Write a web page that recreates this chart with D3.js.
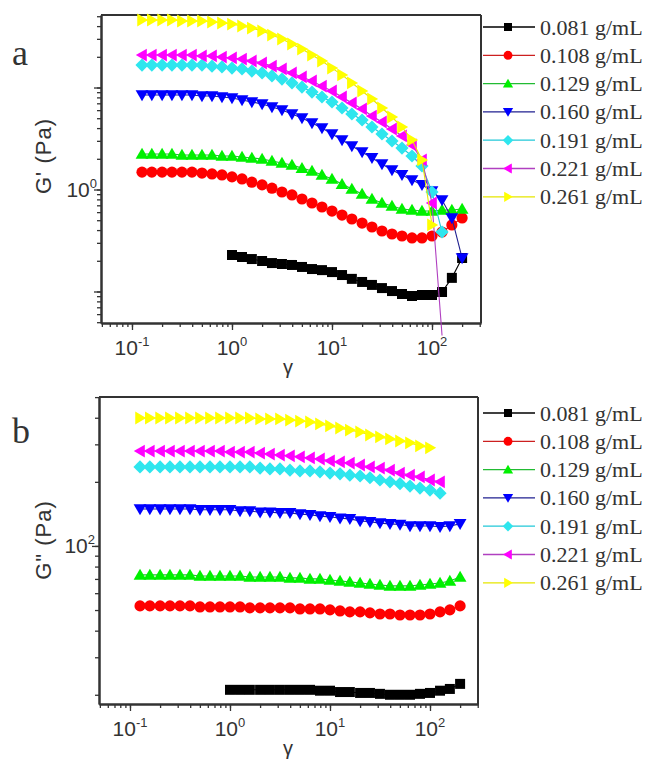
<!DOCTYPE html>
<html>
<head>
<meta charset="utf-8">
<script src="https://cdn.jsdelivr.net/npm/d3@7"></script>
<style>
  html, body { margin: 0; padding: 0; background: #fff; }
  svg { display: block; }
</style>
</head>
<body>
<svg id="chart" width="650" height="764"></svg>
<script>
// ---------------- DATA ----------------
const gamma = [0.126,0.158,0.200,0.251,0.316,0.398,0.501,0.631,0.794,1.00,1.26,1.58,2.00,2.51,3.16,3.98,5.01,6.31,7.94,10.0,12.6,15.8,20.0,25.1,31.6,39.8,50.1,63.1,79.4,100,126,158,200];

const seriesNames = ["0.081 g/mL","0.108 g/mL","0.129 g/mL","0.160 g/mL","0.191 g/mL","0.221 g/mL","0.261 g/mL"];
const seriesStart = [9, 0, 0, 0, 0, 0, 0];   // index into gamma where each series begins

// Panel a: G' (Pa)
const gA081 = [0.228,0.218,0.208,0.199,0.190,0.186,0.182,0.174,0.166,0.162,0.155,0.145,0.133,0.124,0.116,0.108,0.101,0.0945,0.0903,0.0924,0.0924,0.0989,0.136,0.213];
const gA108 = [1.48,1.48,1.48,1.48,1.48,1.48,1.45,1.42,1.39,1.33,1.27,1.18,1.11,1.03,0.945,0.884,0.807,0.737,0.674,0.615,0.562,0.514,0.469,0.429,0.392,0.366,0.350,0.335,0.335,0.350,0.383,0.449,0.526];
const gA129 = [2.23,2.23,2.23,2.23,2.18,2.18,2.18,2.18,2.13,2.13,2.08,2.04,1.99,1.90,1.82,1.74,1.62,1.52,1.39,1.27,1.13,1.01,0.903,0.807,0.737,0.689,0.644,0.630,0.615,0.615,0.630,0.630,0.644];
const gA160 = [8.44,8.44,8.44,8.44,8.44,8.44,8.26,8.26,8.07,7.89,7.54,7.21,6.89,6.44,6.02,5.50,5.02,4.49,4.01,3.50,3.06,2.67,2.33,2.04,1.78,1.55,1.39,1.24,1.11,0.967,0.789,0.526,0.213];
const gA191 = [16.6,16.6,16.6,16.6,16.6,16.6,16.6,16.2,15.9,15.5,15.2,14.5,13.9,13.0,12.1,11.1,10.1,9.03,8.07,7.21,6.30,5.50,4.80,4.10,3.50,2.99,2.55,2.13,1.70,0.945,0.383];
const gA221 = [20.8,20.8,20.8,20.8,20.8,20.8,20.4,20.4,19.9,19.5,19.0,18.2,17.4,16.2,15.2,13.9,12.7,11.6,10.3,9.24,8.07,7.05,6.16,5.25,4.59,3.92,3.35,2.73,1.95,0.737,0.037];
const gA261 = [45.9,45.9,45.9,45.9,44.9,44.9,44.9,43.9,42.9,41.9,40.1,38.3,35.8,32.7,29.9,26.7,23.8,20.8,18.2,15.5,13.3,11.1,9.24,7.72,6.30,5.14,4.10,3.06,1.95,0.449];

// Panel b: G" (Pa)
const gB081 = [21.1,21.1,21.1,21.1,21.1,21.1,21.1,21.1,21.1,20.9,20.9,20.6,20.6,20.4,20.4,20.2,20.0,20.0,20.0,20.2,20.4,20.9,21.3,22.5];
const gB108 = [52.3,52.3,52.3,52.3,52.3,52.3,51.7,51.7,51.7,51.7,51.7,51.2,51.2,51.2,51.2,51.2,50.6,50.6,50.6,50.1,49.5,49.0,49.0,48.5,47.9,47.9,47.4,47.4,47.4,47.9,49.0,50.1,52.3];
const gB129 = [73.1,73.1,73.1,73.1,73.1,73.1,72.3,72.3,72.3,72.3,72.3,71.5,71.5,71.5,71.5,70.8,70.8,70.0,70.0,69.2,68.5,67.8,67.0,66.3,65.6,64.9,64.9,64.9,65.6,66.3,67.0,68.5,71.5];
const gB160 = [149,149,149,149,149,149,148,148,148,148,146,146,144,144,143,143,141,140,138,137,135,134,131,130,128,127,126,124,124,124,123,124,127];
const gB191 = [235,235,235,235,235,235,235,235,235,235,235,235,232,230,230,227,225,225,223,220,218,215,213,209,204,200,196,191,187,183,177];
const gB221 = [279,279,279,279,279,279,279,279,279,276,276,276,273,270,267,265,262,259,256,251,248,245,240,235,232,227,220,215,211,204,200];
const gB261 = [399,399,399,399,399,399,399,399,399,399,399,399,395,395,395,390,386,382,374,366,358,350,343,332,325,318,311,305,295,289];

const xTickLabels = [{v:0.1, base:"10", exp:"-1"}, {v:1, base:"10", exp:"0"}, {v:10, base:"10", exp:"1"}, {v:100, base:"10", exp:"2"}];
const yLabelsA = [{v:1, base:"10", exp:"0"}];
const yLabelsB = [{v:100, base:"10", exp:"2"}];
const yMajorA = [0.1, 1, 10];
const yMajorB = [100];

// ---------------- STYLE ----------------
const markerColors = ["#000000","#ff0000","#00f000","#0000ff","#2ee6ee","#ff00ff","#ffff00"];
const lineColors   = ["#000000","#cc2020","#22bb33","#202090","#22c8d8","#b040c0","#e6e600"];
const shapes = ["square","circle","up","down","diamond","left","right"];

function shapePath(s) {
  switch (s) {
    case "square":  return "M-5,-5H5V5H-5Z";
    case "circle":  return "M5.6,0A5.6,5.6 0 1,1 -5.6,0A5.6,5.6 0 1,1 5.6,0Z";
    case "up":      return "M0,-6.2L6.4,4.8L-6.4,4.8Z";
    case "down":    return "M0,6.2L6.4,-4.8L-6.4,-4.8Z";
    case "diamond": return "M0,-6.6L6.6,0L0,6.6L-6.6,0Z";
    case "left":    return "M-6.2,0L4.8,-6.4L4.8,6.4Z";
    case "right":   return "M6.2,0L-4.8,-6.4L-4.8,6.4Z";
  }
}

const svg = d3.select("#chart");

function minorTicks(lo, hi) {
  const out = [];
  for (let e = -3; e <= 3; e++) {
    for (let m = 1; m <= 9; m++) {
      const v = m * Math.pow(10, e);
      if (v >= lo * 0.9999 && v <= hi * 1.0001) out.push(v);
    }
  }
  return out;
}

function drawPanel(cfg) {
  const g = svg.append("g");
  const x = d3.scaleLog().domain(cfg.xDomain).range([cfg.left, cfg.right]);
  const y = d3.scaleLog().domain(cfg.yDomain).range([cfg.bottom, cfg.top]);

  const xMinor = minorTicks(cfg.xDomain[0], cfg.xDomain[1]);
  const yMinor = minorTicks(cfg.yDomain[0], cfg.yDomain[1]);

  const xAxisMinor = d3.axisBottom(x).tickValues(xMinor).tickSize(4).tickSizeOuter(0).tickFormat("");
  const xAxisMajor = d3.axisBottom(x).tickValues(xTickLabels.map(d => d.v)).tickSize(7).tickSizeOuter(0).tickFormat("");
  const yAxisMinor = d3.axisLeft(y).tickValues(yMinor).tickSize(4).tickSizeOuter(0).tickFormat("");
  const yAxisMajor = d3.axisLeft(y).tickValues(cfg.yMajor).tickSize(7).tickSizeOuter(0).tickFormat("");

  [xAxisMinor, xAxisMajor].forEach(ax => {
    g.append("g").attr("transform", `translate(0,${cfg.bottom})`).call(ax)
      .call(s => s.selectAll("line").attr("stroke", "#333").attr("stroke-width", 1.3))
      .call(s => s.select(".domain").attr("stroke", "#333").attr("stroke-width", 2));
  });
  [yAxisMinor, yAxisMajor].forEach(ax => {
    g.append("g").attr("transform", `translate(${cfg.left},0)`).call(ax)
      .call(s => s.selectAll("line").attr("stroke", "#333").attr("stroke-width", 1.3))
      .call(s => s.select(".domain").attr("stroke", "#333").attr("stroke-width", 2));
  });
  g.append("line").attr("x1", cfg.left).attr("x2", cfg.right).attr("y1", cfg.top).attr("y2", cfg.top)
    .attr("stroke", "#333").attr("stroke-width", 2);
  g.append("line").attr("x1", cfg.right).attr("x2", cfg.right).attr("y1", cfg.top).attr("y2", cfg.bottom)
    .attr("stroke", "#333").attr("stroke-width", 2);

  xTickLabels.forEach(t => {
    const tx = g.append("text").attr("x", x(t.v)).attr("y", cfg.bottom + 32)
      .attr("text-anchor", "middle").attr("font-family", "Liberation Sans, Arial, sans-serif")
      .attr("font-size", 21).attr("fill", "#333");
    tx.append("tspan").text(t.base);
    tx.append("tspan").attr("dy", -9).attr("font-size", 13).text(t.exp);
  });
  cfg.yLabels.forEach(t => {
    const tx = g.append("text").attr("x", cfg.left - 4).attr("y", y(t.v) + 7)
      .attr("text-anchor", "end").attr("font-family", "Liberation Sans, Arial, sans-serif")
      .attr("font-size", 21).attr("fill", "#333");
    tx.append("tspan").text(t.base);
    tx.append("tspan").attr("dy", -9).attr("font-size", 13).text(t.exp);
  });

  g.append("text").attr("x", 288).attr("y", cfg.bottom + 51).attr("text-anchor", "middle")
    .attr("font-family", "Liberation Sans, Arial, sans-serif").attr("font-size", 20).attr("fill", "#333")
    .text("γ");
  g.append("text").attr("transform", `translate(51,${cfg.yTitleY}) rotate(-90)`).attr("text-anchor", "middle")
    .attr("font-family", "Liberation Sans, Arial, sans-serif").attr("font-size", 22).attr("fill", "#333")
    .attr("letter-spacing", 1)
    .text(cfg.yTitle);

  g.append("text").attr("x", 12).attr("y", cfg.letterY)
    .attr("font-family", "Liberation Serif, Times New Roman, serif").attr("font-size", 36).attr("fill", "#333")
    .text(cfg.letter);

  const line = d3.line().x(d => x(d.g)).y(d => y(d.v));
  cfg.series.forEach((vals, i) => {
    const pts = vals.map((v, j) => ({ g: gamma[seriesStart[i] + j], v }));
    g.append("path").attr("d", line(pts)).attr("fill", "none")
      .attr("stroke", lineColors[i]).attr("stroke-width", 1.1);
    g.selectAll(null).data(pts.filter(p => p.v >= cfg.yDomain[0] && p.v <= cfg.yDomain[1]))
      .enter().append("path")
      .attr("d", shapePath(shapes[i]))
      .attr("transform", p => `translate(${x(p.g)},${y(p.v)})`)
      .attr("fill", markerColors[i]);
  });

  seriesNames.forEach((name, i) => {
    const ly = cfg.legendY + i * 28.3;
    g.append("line").attr("x1", 483).attr("x2", 535).attr("y1", ly).attr("y2", ly)
      .attr("stroke", lineColors[i]).attr("stroke-width", 1.3);
    g.append("path").attr("d", shapePath(shapes[i])).attr("transform", `translate(508,${ly}) scale(0.8)`)
      .attr("fill", markerColors[i]);
    g.append("text").attr("x", 540).attr("y", ly + 7.5)
      .attr("font-family", "Liberation Serif, Times New Roman, serif").attr("font-size", 22).attr("fill", "#333")
      .text(name);
  });
}

drawPanel({
  left: 101, right: 481, top: 15, bottom: 323,
  xDomain: [0.0490, 309], yDomain: [0.0491, 51.4],
  yMajor: yMajorA, yLabels: yLabelsA,
  yTitle: "G' (Pa)", yTitleY: 156, letter: "a", letterY: 65, legendY: 27,
  series: [gA081, gA108, gA129, gA160, gA191, gA221, gA261]
});
drawPanel({
  left: 99, right: 478, top: 397, bottom: 704,
  xDomain: [0.0490, 302], yDomain: [18.1, 500.6],
  yMajor: yMajorB, yLabels: yLabelsB,
  yTitle: 'G" (Pa)', yTitleY: 540, letter: "b", letterY: 443, legendY: 413,
  series: [gB081, gB108, gB129, gB160, gB191, gB221, gB261]
});
</script>
</body>
</html>
